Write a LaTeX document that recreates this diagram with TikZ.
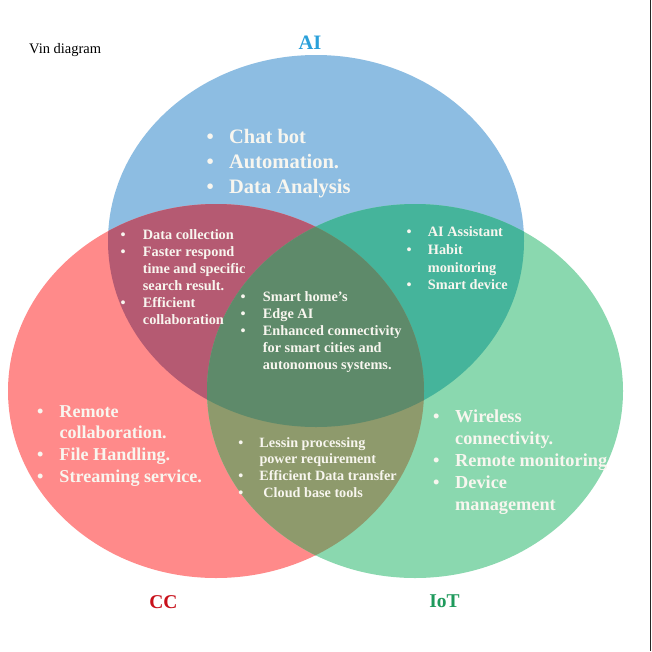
\documentclass[tikz,border=0pt]{standalone}
\usepackage{fontspec}
\setmainfont{Liberation Serif}
\definecolor{aiC}{HTML}{8DBDE2}
\definecolor{ccC}{HTML}{FF8A8A}
\definecolor{iotC}{HTML}{8AD8AF}
\definecolor{aiccC}{HTML}{B55A72}
\definecolor{aiiotC}{HTML}{45B49B}
\definecolor{cciotC}{HTML}{8E9A6C}
\definecolor{allC}{HTML}{5E8A6A}
\definecolor{txtC}{HTML}{F8F6EF}
\definecolor{aiL}{HTML}{2AA0DA}
\definecolor{ccL}{HTML}{C8101A}
\definecolor{iotL}{HTML}{1E9A5C}
\begin{document}
\begin{tikzpicture}[x=1pt,y=-1pt,
  lst/.style={anchor=base west, inner sep=0pt, text=txtC},
  lbl/.style={inner sep=0pt, font=\bfseries\fontsize{19.5}{22}\selectfont}]
\useasboundingbox (0,0) rectangle (652,651);
\fill[white] (0,0) rectangle (652,651);
% circles
\fill[aiC] (316,241) ellipse [x radius=208pt, y radius=186pt];
\fill[ccC] (216,391) ellipse [x radius=208pt, y radius=187pt];
\fill[iotC] (415,391) ellipse [x radius=208pt, y radius=187pt];
\begin{scope}
  \clip (316,241) ellipse [x radius=208pt, y radius=186pt];
  \fill[aiccC] (216,391) ellipse [x radius=208pt, y radius=187pt];
\end{scope}
\begin{scope}
  \clip (316,241) ellipse [x radius=208pt, y radius=186pt];
  \fill[aiiotC] (415,391) ellipse [x radius=208pt, y radius=187pt];
\end{scope}
\begin{scope}
  \clip (216,391) ellipse [x radius=208pt, y radius=187pt];
  \fill[cciotC] (415,391) ellipse [x radius=208pt, y radius=187pt];
\end{scope}
\begin{scope}
  \clip (316,241) ellipse [x radius=208pt, y radius=186pt];
  \clip (216,391) ellipse [x radius=208pt, y radius=187pt];
  \fill[allC] (415,391) ellipse [x radius=208pt, y radius=187pt];
\end{scope}
\draw[line width=1.3pt, black!85] (650.6,0) -- (650.6,651);
% title and labels
\node[anchor=base west, inner sep=0pt, font=\fontsize{14.5}{17}\selectfont] (title) at (29,53) {Vin diagram};
\node[lbl, text=aiL, font=\bfseries\fontsize{20.5}{22}\selectfont] (aiLab) at (310,43) {AI};
\node[lbl, text=ccL] (ccLab) at (163.5,602.5) {CC};
\node[lbl, text=iotL] (iotLab) at (444.5,601.5) {IoT};
% AI only
\node[lst, font=\bfseries\fontsize{20.5}{25.2}\selectfont] (aiT) at (206.4,143.5)
 {\begin{tabular}[t]{@{}p{22.6pt}@{}l@{}}\textbullet&Chat bot\\\textbullet&Automation.\\\textbullet&Data Analysis\end{tabular}};
% AI and CC
\node[lst, font=\bfseries\fontsize{14.3}{17}\selectfont] (aiccT) at (120.5,239.5)
 {\begin{tabular}[t]{@{}p{22.2pt}@{}l@{}}\textbullet&Data collection\\\textbullet&Faster respond\\&time and specific\\&search result.\\\textbullet&Efficient\\&collaboration\end{tabular}};
% all three
\node[lst, font=\bfseries\fontsize{14.3}{17}\selectfont] (allT) at (240.5,301)
 {\begin{tabular}[t]{@{}p{22.2pt}@{}l@{}}\textbullet&Smart home's\\\textbullet&Edge AI\\\textbullet&Enhanced connectivity\\&for smart cities and\\&autonomous systems.\end{tabular}};
% AI and IoT
\node[lst, font=\bfseries\fontsize{14.3}{17.6}\selectfont] (aiiotT) at (406.5,236.8)
 {\begin{tabular}[t]{@{}p{21.2pt}@{}l@{}}\textbullet&AI Assistant\\\textbullet&Habit\\&monitoring\\\textbullet&Smart device\end{tabular}};
% CC only
\node[lst, font=\bfseries\fontsize{18.1}{21.7}\selectfont] (ccT) at (36.8,417)
 {\begin{tabular}[t]{@{}p{22.5pt}@{}l@{}}\textbullet&Remote\\&collaboration.\\\textbullet&File Handling.\\\textbullet&Streaming service.\end{tabular}};
% CC and IoT
\node[lst, font=\bfseries\fontsize{14.2}{16.8}\selectfont] (cciotT) at (238.2,447)
 {\begin{tabular}[t]{@{}p{21.1pt}@{}l@{}}\textbullet&Lessin processing\\&power requirement\\\textbullet&Efficient Data transfer\\\textbullet&\hspace{4pt}Cloud base tools\end{tabular}};
% IoT only
\node[lst, font=\bfseries\fontsize{18.3}{22}\selectfont] (iotT) at (432.8,422)
 {\begin{tabular}[t]{@{}p{22.2pt}@{}l@{}}\textbullet&Wireless\\&connectivity.\\\textbullet&Remote monitoring\\\textbullet&Device\\&management\end{tabular}};
\end{tikzpicture}
\end{document}
